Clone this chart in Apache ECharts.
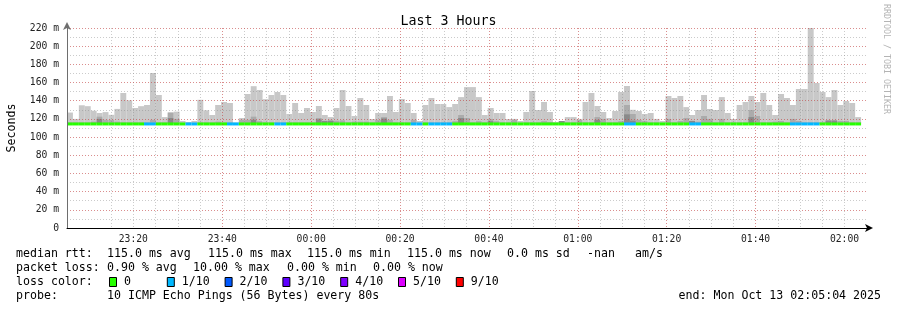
<!DOCTYPE html>
<html><head><meta charset="utf-8">
<script src="https://cdn.jsdelivr.net/npm/echarts@6/dist/echarts.min.js"></script>
<style>html,body{margin:0;padding:0;background:#fff}#c{width:897px;height:310px}</style>
</head><body><div id="c"></div>
<script>
// ---- data ----
const stepSeconds = 80;
const startTime = -3296;   // 23:05:04 (seconds relative to 00:00 Oct 13)
const endTime = 7504;      // 02:05:04
const medianRtt = 115;
const yTickValues = [0, 20, 40, 60, 80, 100, 120, 140, 160, 180, 200, 220];
const timeTickLabels = ['23:20', '23:40', '00:00', '00:20', '00:40', '01:00', '01:20', '01:40', '02:00'];
const timeTickValues = [-2400, -1200, 0, 1200, 2400, 3600, 4800, 6000, 7200];
const minorTimeTickValues = [-3000, -2700, -2400, -2100, -1800, -1500, -1200, -900, -600, -300, 0, 300, 600, 900, 1200, 1500, 1800, 2100, 2400, 2700, 3000, 3300, 3600, 3900, 4200, 4500, 4800, 5100, 5400, 5700, 6000, 6300, 6600, 6900, 7200, 7500];

const smokeMax = [
  127, 120, 135, 134, 129, 126.5, 127.5, 124.5, 131, 148.5,
  140.5, 132, 134, 135.3, 170.5, 146.3, 122, 127, 128, 117.7,
  116.6, 117.7, 141, 129.5, 124.3, 135.3, 138.6, 137.5, 116, 121,
  147.4, 156, 151.8, 141.7, 146.3, 149.6, 146.3, 125.4, 137.5, 126.5,
  132, 127.6, 134.2, 124.3, 122, 132, 151.8, 134.2, 123.2, 143,
  135.3, 119.9, 126.5, 126.5, 145.2, 127.6, 141.9, 137.5, 126.5, 117.7,
  135.3, 143, 136.4, 136.4, 133, 136.4, 144, 155, 155, 144,
  124.3, 132, 126.5, 126.5, 119.9, 120, 117.7, 127.6, 150.7, 129.8,
  138.6, 127.6, 116.6, 117.7, 122, 122, 120, 138.6, 148.5, 134.2,
  127.6, 121, 128.7, 149.6, 156.2, 130, 128.7, 125.4, 126.5, 120,
  117.7, 145.2, 143, 145.2, 133, 124.3, 129.8, 146.3, 130.9, 129.8,
  144, 126.5, 119.9, 135.3, 138.6, 145.2, 138.6, 148.5, 135.3, 124.3,
  147.4, 143, 135.3, 152.9, 152.9, 220, 159.5, 149.6, 144, 151.8,
  135.3, 139.7, 137.5, 122
];
const smokeMid = [
  116, 116, 116, 116, 117, 122.5, 119, 119, 117, 116,
  116, 116, 116, 116, 119, 116, 116, 127, 120, 115,
  115, 115, 116, 116, 116, 117, 116, 116, 115, 119,
  119, 122.5, 117.5, 116, 116, 116, 116, 116, 116, 116,
  116, 116, 121, 118, 119, 118, 118.4, 116, 117, 117,
  117, 116, 119, 122, 119, 116, 116, 116, 119, 115,
  116, 116, 116, 116, 116, 117.5, 124.3, 121, 116, 117.5,
  116, 120, 117.5, 116, 116, 119, 115, 116, 116, 116,
  117.5, 116.5, 115, 117.7, 116, 116, 118.8, 116, 116, 122,
  120, 116, 116, 117.5, 135.3, 125.4, 119, 117.5, 116, 116,
  115, 120, 116, 117.7, 121, 118, 117, 123.2, 120, 116,
  120, 116, 116, 116, 116, 129.8, 123.2, 116, 116, 117,
  117.7, 116, 120, 117.7, 116, 116, 116, 116, 118.8, 118.8,
  117.7, 117.7, 116, 116
];
const smokeDark = [
  115, 115, 115, 115, 115, 120, 115, 115, 115, 115,
  115, 115, 115, 115, 115, 115, 115, 121, 115, 115,
  115, 115, 115, 115, 115, 115, 115, 115, 115, 115,
  115, 119, 115, 115, 115, 115, 115, 115, 115, 115,
  115, 115, 119.5, 117.7, 117.7, 115, 115, 115, 115, 115,
  115, 115, 115, 120.5, 115, 115, 115, 115, 115, 115,
  115, 115, 115, 115, 115, 115, 121, 115, 115, 115,
  115, 117.5, 115, 115, 115, 115, 115, 115, 115, 115,
  115, 115, 115, 117.7, 115, 115, 115, 115, 115, 119,
  115, 115, 115, 115, 125, 118, 115, 115, 115, 115,
  115, 115, 115, 115, 115, 117.7, 115, 115, 115, 115,
  115, 115, 115, 115, 115, 122, 115, 115, 115, 115,
  115, 115, 115, 115, 115, 115, 115, 115, 118, 118,
  115, 115, 115, 115
];
const lossTenths = [
  0, 0, 0, 0, 0, 0, 0, 0, 0, 0,
  0, 0, 0, 1, 1, 0, 0, 0, 0, 0,
  1, 1, 0, 0, 0, 0, 0, 1, 1, 0,
  0, 0, 0, 0, 0, 1, 1, 0, 0, 0,
  0, 0, 0, 0, 0, 0, 0, 0, 0, 0,
  0, 0, 0, 0, 0, 0, 0, 0, 1, 1,
  0, 1, 1, 1, 1, 0, 0, 0, 0, 0,
  0, 0, 0, 0, 0, 0, 0, 0, 0, 0,
  0, 0, 0, 0, 0, 0, 0, 0, 0, 0,
  0, 0, 0, 0, 1, 1, 0, 0, 0, 0,
  0, 0, 0, 0, 0, 1, 1, 0, 0, 0,
  0, 0, 0, 0, 0, 0, 0, 0, 0, 0,
  0, 0, 1, 1, 1, 1, 1, 0, 0, 0,
  0, 0, 0, 0
];
const lossLabels = ['0', '1/10', '2/10', '3/10', '4/10', '5/10', '9/10'];
const lossLegendColors = ['#26ff00', '#00b8ff', '#0059ff', '#5e00ff', '#7e00ff', '#dd00ff', '#ff0000'];
const lossColorByTenths = ['#26ff00', '#00b8ff', '#0059ff', '#5e00ff', '#7e00ff', '#dd00ff', '#ff0000', '#ff0000', '#ff0000', '#ff0000', '#ff0000'];

const legendLine1 = [['median rtt:', 16], ['115.0 ms avg', 107], ['115.0 ms max', 208], ['115.0 ms min', 307], ['115.0 ms now', 407], ['0.0 ms sd', 507], ['-nan', 587], ['am/s', 635]];
const legendLine2 = [['packet loss:', 16], ['0.90 % avg', 107], ['10.00 % max', 193], ['0.00 % min', 287], ['0.00 % now', 373]];
const legendLine4 = [['probe:', 16], ['10 ICMP Echo Pings (56 Bytes) every 80s', 107]];
const endText = 'end: Mon Oct 13 02:05:04 2025';

// ---- build ----
const smokeData = smokeMax.map((v, i) => [startTime + i * stepSeconds, v, smokeMid[i], smokeDark[i]]);
const medianData = lossTenths.map((l, i) => [startTime + i * stepSeconds, medianRtt, l]);

const MONO = 'DejaVu Sans Mono';
const chart = echarts.init(document.getElementById('c'), null, {renderer: 'canvas'});

function renderSmoke(params, api) {
  const t = api.value(0);
  const base = api.coord([t, medianRtt]);
  const layers = [[api.value(1), '#c8c8c8'], [api.value(2), '#ababab'], [api.value(3), '#8a8a8a']];
  const children = [];
  layers.forEach(([v, color]) => {
    if (v <= medianRtt) return;
    const p0 = api.coord([t, v]);
    const p1 = api.coord([t + stepSeconds, v]);
    children.push({type: 'rect', shape: {x: p0[0], y: p0[1], width: p1[0] - p0[0], height: base[1] - p0[1]},
      style: {fill: color}});
  });
  return {type: 'group', children};
}
function renderMedian(params, api) {
  const t = api.value(0);
  const p0 = api.coord([t, api.value(1)]);
  const p1 = api.coord([t + stepSeconds, api.value(1)]);
  return {type: 'line', shape: {x1: p0[0], y1: p0[1] + 0.5, x2: p1[0], y2: p1[1] + 0.5},
    style: {stroke: lossColorByTenths[api.value(2)], lineWidth: 3}};
}

const graphics = [];
function addLine(items, y) {
  items.forEach(([txt, x]) => graphics.push({type: 'text', x: x, y: y,
    style: {text: txt, font: '11.6px "' + MONO + '"', fill: '#000', textVerticalAlign: 'middle'}}));
}
addLine(legendLine1, 254);
addLine(legendLine2, 268);
addLine([['loss color:', 16]], 282);
lossLabels.forEach((lab, i) => {
  const bx = 109 + i * 57.8;
  graphics.push({type: 'rect', shape: {x: bx + 0.5, y: 277.5, width: 7, height: 9},
    style: {fill: lossLegendColors[i], stroke: '#000', lineWidth: 1}});
  graphics.push({type: 'text', x: bx + 15, y: 282,
    style: {text: lab, font: '11.6px "' + MONO + '"', fill: '#000', textVerticalAlign: 'middle'}});
});
addLine(legendLine4, 296);
graphics.push({type: 'text', x: 881, y: 296,
  style: {text: endText, font: '11.6px "' + MONO + '"', fill: '#000', textAlign: 'right', textVerticalAlign: 'middle'}});
graphics.push({type: 'text', x: 886, y: 4, rotation: -Math.PI / 2,
  style: {text: 'RRDTOOL / TOBI OETIKER', font: '8.3px "' + MONO + '"', fill: '#b4b4b4', textVerticalAlign: 'middle'}});

const majorStyle = {color: 'rgba(255,0,0,0.3)', type: [1, 2], width: 1};
const minorStyle = {color: 'rgba(130,130,130,0.42)', type: [1, 2], width: 1};

chart.setOption({
  animation: false,
  backgroundColor: '#fff',
  title: {text: 'Last 3 Hours', left: 'center', top: 10,
    textStyle: {fontFamily: MONO, fontSize: 13.3, fontWeight: 'normal', color: '#000'}},
  grid: {left: 67, right: 30, top: 28, bottom: 82, containLabel: false, outerBoundsMode: 'none'},
  xAxis: [
    {type: 'value', min: startTime, max: endTime, z: 4,
      axisLine: {show: true, onZero: false, lineStyle: {color: '#000', width: 1}, symbol: ['none', 'arrow'], symbolSize: [6, 8], symbolOffset: [0, 6]},
      axisTick: {show: false, customValues: timeTickValues},
      axisLabel: {customValues: timeTickValues, margin: 6, fontFamily: MONO, fontSize: 9.7, color: '#222',
        formatter: v => timeTickLabels[timeTickValues.indexOf(v)] || ''},
      splitLine: {show: true, showMinLine: false, showMaxLine: false, lineStyle: majorStyle}},
    {type: 'value', min: startTime, max: endTime, z: 3, position: 'bottom',
      axisLine: {show: false}, axisTick: {show: false, customValues: minorTimeTickValues},
      axisLabel: {show: false, customValues: minorTimeTickValues},
      splitLine: {show: true, showMinLine: false, showMaxLine: false, lineStyle: minorStyle}}
  ],
  yAxis: [
    {type: 'value', min: 0, max: 220, interval: 20, z: 4,
      name: 'Seconds', nameLocation: 'middle', nameRotate: 90, nameGap: 49,
      nameTextStyle: {fontFamily: MONO, fontSize: 11.6, color: '#000'},
      axisLine: {show: true, onZero: false, lineStyle: {color: '#6e6e6e', width: 1}, symbol: ['none', 'arrow'], symbolSize: [6, 8], symbolOffset: [0, 6]},
      axisTick: {show: false},
      axisLabel: {margin: 8, fontFamily: MONO, fontSize: 9.7, color: '#222',
        formatter: v => yTickValues.indexOf(v) < 0 ? '' : (v === 0 ? '0' : v + ' m')},
      splitLine: {show: true, showMinLine: false, lineStyle: majorStyle}},
    {type: 'value', min: 0, max: 220, interval: 10, z: 3, position: 'left',
      axisLine: {show: false}, axisTick: {show: false}, axisLabel: {show: false},
      splitLine: {show: true, showMinLine: false, lineStyle: minorStyle}}
  ],
  series: [
    {type: 'custom', z: 1, xAxisIndex: 0, yAxisIndex: 0, renderItem: renderSmoke,
      encode: {x: 0, y: 1}, data: smokeData, silent: true},
    {type: 'custom', z: 2, xAxisIndex: 0, yAxisIndex: 0, renderItem: renderMedian,
      encode: {x: 0, y: 1}, data: medianData, silent: true}
  ],
  graphic: graphics
});
</script></body></html>
